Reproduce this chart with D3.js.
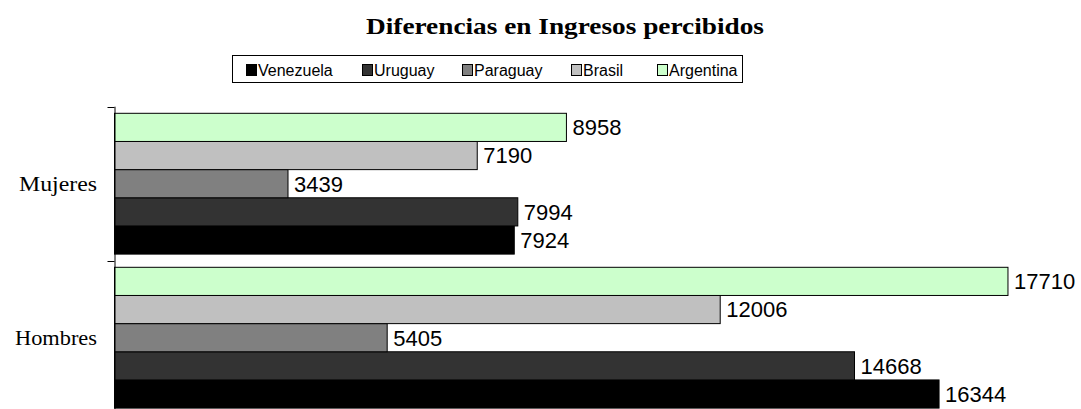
<!DOCTYPE html>
<html>
<head>
<meta charset="utf-8">
<script src="https://cdn.jsdelivr.net/npm/d3@7"></script>
<style>
  body { margin: 0; background: #fff; }
  svg { display: block; }
</style>
</head>
<body>
<svg id="chart" width="1081" height="409"></svg>
<script>
// data
var categories = ['Mujeres', 'Hombres'];
var countries = ['Venezuela', 'Uruguay', 'Paraguay', 'Brasil', 'Argentina'];
var venezuela = [7924, 16344];
var uruguay = [7994, 14668];
var paraguay = [3439, 5405];
var brasil = [7190, 12006];
var argentina = [8958, 17710];
var colors = ['#000000', '#333333', '#808080', '#c0c0c0', '#ccffcc'];

var seriesValues = [venezuela, uruguay, paraguay, brasil, argentina];

var conf = {
    left: 114.5,
    top: 106.7,
    bandHeight: 154,
    barPad: 6.6,
    plotWidth: 1009
};

var serif = '"Liberation Serif", "Times New Roman", serif';
var sans = '"Liberation Sans", Arial, sans-serif';

var svg = d3.select('#chart');

var x = d3.scaleLinear()
    .domain([0, 20000])
    .range([conf.left, conf.left + conf.plotWidth]);

var y = d3.scaleBand()
    .domain(categories)
    .range([conf.top, conf.top + conf.bandHeight * categories.length]);

// bars inside a band: Argentina on top, Venezuela at the bottom
var inner = d3.scaleBand()
    .domain(countries.slice().reverse())
    .range([conf.barPad, conf.bandHeight - conf.barPad]);

// title (the original font is a bit wider than Liberation Serif)
svg.append('text')
    .attr('x', 366)
    .attr('y', 33.5)
    .attr('textLength', 398)
    .attr('lengthAdjust', 'spacingAndGlyphs')
    .style('font-family', serif)
    .style('font-weight', 'bold')
    .style('font-size', '22.5px')
    .text('Diferencias en Ingresos percibidos');

// legend
var legend = svg.append('g');
legend.append('rect')
    .attr('x', 232.5)
    .attr('y', 55.5)
    .attr('width', 510)
    .attr('height', 27)
    .attr('fill', '#fff')
    .attr('stroke', '#000')
    .attr('stroke-width', 1);

var legendX = [246, 362, 462, 571, 657];
countries.forEach(function(c, i){
    var g = legend.append('g');
    g.append('rect')
        .attr('x', legendX[i] + 0.5)
        .attr('y', 64.5)
        .attr('width', 10)
        .attr('height', 11)
        .attr('fill', colors[i])
        .attr('stroke', '#000')
        .attr('stroke-width', 1);
    g.append('text')
        .attr('x', legendX[i] + 12)
        .attr('y', 76.3)
        .style('font-family', sans)
        .style('font-size', '16px')
        .text(c);
});

// bars
var plot = svg.append('g');
categories.forEach(function(cat, ci){
    var g = plot.append('g')
        .attr('transform', 'translate(0,' + y(cat) + ')');
    countries.forEach(function(c, si){
        var v = seriesValues[si][ci];
        g.append('rect')
            .attr('x', x(0))
            .attr('y', inner(c))
            .attr('width', x(v) - x(0))
            .attr('height', inner.bandwidth())
            .attr('fill', colors[si])
            .attr('stroke', '#000')
            .attr('stroke-width', 1);
        g.append('text')
            .attr('x', x(v) + 6)
            .attr('y', inner(c) + inner.bandwidth() / 2)
            .attr('dy', '0.36em')
            .style('font-family', sans)
            .style('font-size', '22px')
            .text(v);
    });
});

// category axis, ticks sit on band edges
var catW = [78, 82];
var axis = svg.append('g');
axis.append('line')
    .attr('x1', x(0) + 0.5).attr('y1', y.range()[0])
    .attr('x2', x(0) + 0.5).attr('y2', y.range()[1])
    .attr('stroke', '#000');
categories.forEach(function(cat, i){
    axis.append('line')
        .attr('x1', x(0) - 7).attr('y1', Math.round(y(cat)) + 0.5)
        .attr('x2', x(0)).attr('y2', Math.round(y(cat)) + 0.5)
        .attr('stroke', '#000');
    axis.append('text')
        .attr('x', 97 - catW[i])
        .attr('y', y(cat) + y.bandwidth() / 2)
        .attr('dy', '0.33em')
        .attr('textLength', catW[i])
        .attr('lengthAdjust', 'spacingAndGlyphs')
        .style('font-family', serif)
        .style('font-size', '22px')
        .text(cat);
});
</script>
</body>
</html>
